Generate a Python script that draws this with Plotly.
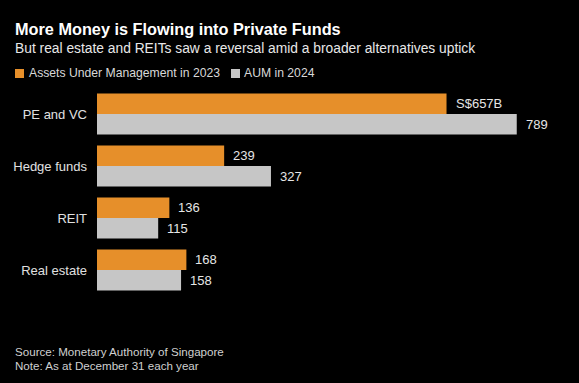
import plotly.graph_objects as go

categories = ["PE and VC", "Hedge funds", "REIT", "Real estate"]
aum_2023 = [657, 239, 136, 168]
aum_2024 = [789, 327, 115, 158]
labels_2023 = ["S$657B", "239", "136", "168"]
labels_2024 = ["789", "327", "115", "158"]

ORANGE = "#E68F2A"
GRAY = "#C6C6C6"
FONT = "Liberation Sans"
W, H = 579, 383
L, T, B = 97, 88, 87
PW = W - L
PH = H - T - B
BAR_PX = 20.5

def px(x):
    return (x - L) / PW

def py(y):
    return (H - B - y) / PH

fig = go.Figure()
fig.add_trace(go.Bar(y=categories, x=aum_2023, orientation="h", name="Assets Under Management in 2023",
                     marker=dict(color=ORANGE, line=dict(width=0))))
fig.add_trace(go.Bar(y=categories, x=aum_2024, orientation="h", name="AUM in 2024",
                     marker=dict(color=GRAY, line=dict(width=0))))

annotations = [
    dict(text="<b>More Money is Flowing into Private Funds</b>", x=px(13), y=py(29), font=dict(size=16.3, color="#FFFFFF", family=FONT)),
    dict(text="But real estate and REITs saw a reversal amid a broader alternatives uptick", x=px(13), y=py(48), font=dict(size=13.8, color="#E8E8E8", family=FONT)),
    dict(text="Assets Under Management in 2023", x=px(27), y=py(73), font=dict(size=12.2, color="#D8D8D8", family=FONT)),
    dict(text="AUM in 2024", x=px(242), y=py(73), font=dict(size=12.2, color="#D8D8D8", family=FONT)),
    dict(text="Source: Monetary Authority of Singapore", x=px(13), y=py(351), font=dict(size=11.6, color="#D0D0D0", family=FONT)),
    dict(text="Note: As at December 31 each year", x=px(13), y=py(365), font=dict(size=11.6, color="#D0D0D0", family=FONT)),
]
for a in annotations:
    a.update(xref="paper", yref="paper", xanchor="left", yanchor="middle", showarrow=False)

for cat, v, t in zip(categories, aum_2023, labels_2023):
    annotations.append(dict(x=v, y=cat, xref="x", yref="y", text=t, xanchor="left", yanchor="middle",
                            xshift=7, yshift=BAR_PX / 2, showarrow=False,
                            font=dict(size=13, color="#E6E6E6", family=FONT)))
for cat, v, t in zip(categories, aum_2024, labels_2024):
    annotations.append(dict(x=v, y=cat, xref="x", yref="y", text=t, xanchor="left", yanchor="middle",
                            xshift=7, yshift=-BAR_PX / 2, showarrow=False,
                            font=dict(size=13, color="#E6E6E6", family=FONT)))

shapes = [
    dict(type="rect", xref="paper", yref="paper", x0=px(15), x1=px(24), y0=py(78), y1=py(69), fillcolor=ORANGE, line=dict(width=0)),
    dict(type="rect", xref="paper", yref="paper", x0=px(231), x1=px(240), y0=py(78), y1=py(69), fillcolor=GRAY, line=dict(width=0)),
]

fig.update_layout(
    width=W, height=H,
    margin=dict(l=L, r=0, t=T, b=B, pad=0),
    paper_bgcolor="#000000", plot_bgcolor="#000000",
    barmode="group", bargap=0.21, bargroupgap=0,
    showlegend=False,
    annotations=annotations, shapes=shapes,
    xaxis=dict(range=[0, PW / 0.532], visible=False, showgrid=False, zeroline=False, fixedrange=True),
    yaxis=dict(autorange="reversed", showgrid=False, zeroline=False, showline=False, ticks="",
               ticklabelstandoff=9, tickfont=dict(size=13, color="#E0E0E0", family=FONT)),
    font=dict(family=FONT),
)

fig.write_html("out.html", config={"displayModeBar": False},
               post_script="document.body.style.margin='0px';document.body.style.background='#000';")
